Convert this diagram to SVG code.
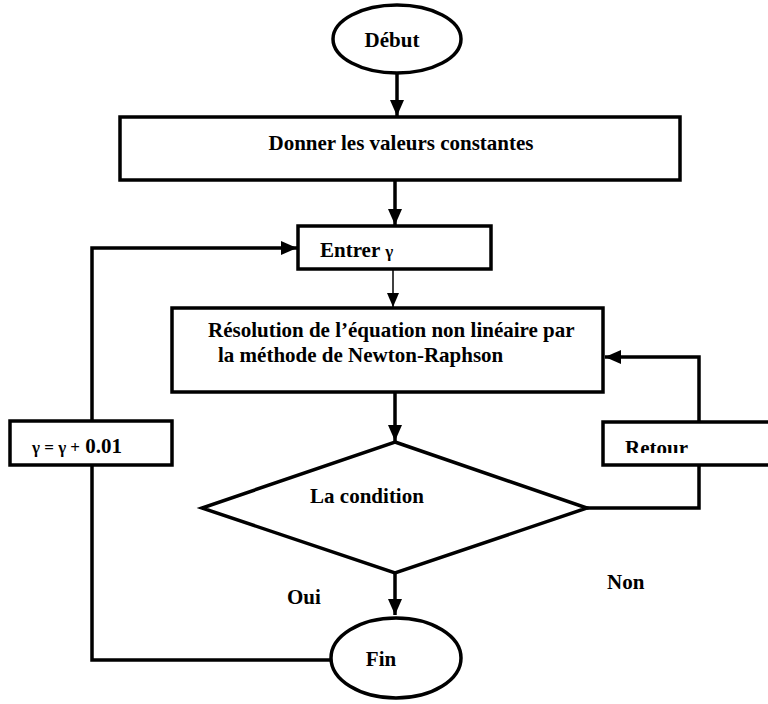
<svg xmlns="http://www.w3.org/2000/svg" width="768" height="704" viewBox="0 0 768 704">
<defs>
<style>
.shape{fill:#fff;stroke:#000;stroke-width:3.5}
.ln{fill:none;stroke:#000;stroke-width:3.5}
.thin{fill:none;stroke:#000;stroke-width:1.5}
text{font-family:'Liberation Serif','Times New Roman',Tinos,Times,serif;font-weight:bold;font-size:21px;fill:#000}
</style>
<marker id="ah" markerUnits="userSpaceOnUse" markerWidth="16" markerHeight="14" refX="16" refY="7" orient="auto">
<path d="M0,0 L16,7 L0,14 Z" fill="#000"/>
</marker>
<marker id="ahs" markerUnits="userSpaceOnUse" markerWidth="14" markerHeight="12" refX="14" refY="6" orient="auto">
<path d="M0,0 L14,6 L0,12 Z" fill="#000"/>
</marker>
<clipPath id="retclip"><rect x="603" y="423" width="165" height="30"/></clipPath>
</defs>
<rect width="768" height="704" fill="#fff"/>
<g id="connectors">
<line class="ln" x1="397" y1="73" x2="397" y2="116" marker-end="url(#ah)"/>
<line class="ln" x1="395" y1="180" x2="395" y2="225" marker-end="url(#ah)"/>
<line class="thin" x1="393" y1="269" x2="393" y2="307" marker-end="url(#ahs)"/>
<line class="ln" x1="395" y1="392" x2="395" y2="441" marker-end="url(#ah)"/>
<line class="ln" x1="395" y1="573" x2="395" y2="615" marker-end="url(#ah)"/>
<polyline class="ln" points="587,508 699,508 699,465"/>
<polyline class="ln" points="699,422 699,357 605,357" marker-end="url(#ah)"/>
<polyline class="ln" points="331,660 92,660 92,465"/>
<polyline class="ln" points="92,421 92,248 297,248" marker-end="url(#ah)"/>
</g>
<g id="debut">
<ellipse class="shape" cx="397" cy="39" rx="64" ry="34"/>
<text x="392" y="47" text-anchor="middle">Début</text>
</g>
<g id="donner">
<rect class="shape" x="120" y="117" width="560" height="63"/>
<text x="401" y="150" text-anchor="middle">Donner les valeurs constantes</text>
</g>
<g id="entrer">
<rect class="shape" x="298" y="226" width="193" height="43"/>
<text x="320" y="257">Entrer <tspan font-size="17">γ</tspan></text>
</g>
<g id="resolution">
<rect class="shape" x="172" y="308" width="431" height="84"/>
<text x="208" y="337">Résolution de l’équation non linéaire par</text>
<text x="218" y="362">la méthode de Newton-Raphson</text>
</g>
<g id="condition">
<polygon class="shape" points="395,442 587,508 395,573 202,508"/>
<text x="367" y="503" text-anchor="middle">La condition</text>
</g>
<g id="retour">
<rect class="shape" x="603" y="422" width="170" height="43"/>
<text x="625" y="455" clip-path="url(#retclip)">Retour</text>
</g>
<g id="gamma">
<rect class="shape" x="10" y="421" width="162" height="44"/>
<text x="32" y="453"><tspan font-size="17">γ = γ +</tspan> 0.01</text>
</g>
<g id="fin">
<ellipse class="shape" cx="396" cy="658" rx="65" ry="40"/>
<text x="381" y="666" text-anchor="middle" font-size="22">Fin</text>
</g>
<g id="labels">
<text x="607" y="589">Non</text>
<text x="287" y="604">Oui</text>
</g>
</svg>
